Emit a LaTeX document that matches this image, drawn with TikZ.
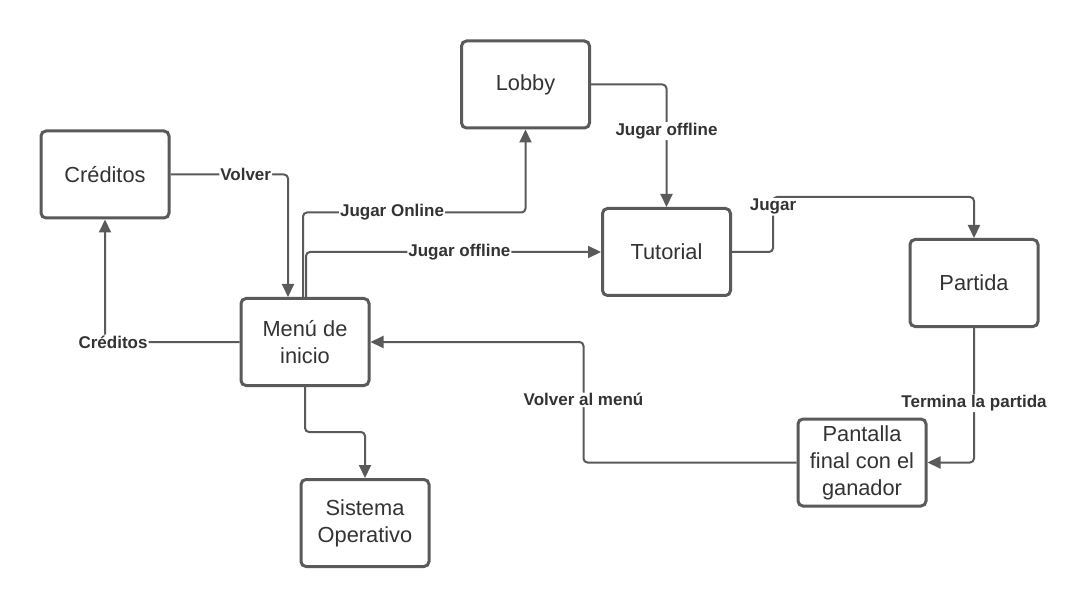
\documentclass[tikz,border=0pt]{standalone}
\usepackage{fontspec}
\setmainfont{Liberation Sans}
\usetikzlibrary{arrows.meta}
\definecolor{ln}{HTML}{5A5A5A}
\definecolor{tx}{HTML}{333333}
\begin{document}
\begin{tikzpicture}[x=1pt,y=-1pt,
  box/.style={draw=ln, line width=3pt, rounded corners=5pt, minimum width=128pt, minimum height=87pt, align=center, font=\fontsize{21.8}{27}\selectfont, text=tx, inner sep=0pt},
  conn/.style={draw=ln, line width=2pt, rounded corners=4pt, -{Triangle[length=13pt,width=12pt]}},
  lbl/.style={fill=white, font=\bfseries\fontsize{17}{19}\selectfont, text=tx, inner sep=1pt}]
\useasboundingbox[fill=white] (0,0) rectangle (1091,609);
\node[box] (cred) at (105,174.5) {Créditos};
\node[box] (lobby) at (525.5,84.5) {Lobby};
\node[box] (tut) at (666.5,252) {Tutorial};
\node[box] (part) at (974,283) {Partida};
\node[box] (menu) at (305,342) {Menú de\\inicio};
\node[box] (sis) at (365,523) {Sistema\\Operativo};
\node[box] (pant) at (862,462.5) {Pantalla\\final con el\\ganador};
% connectors
\draw[conn] (cred.east) -| node[lbl,pos=0.32]{Volver} ([xshift=-17pt]menu.north);
\draw[conn] ([xshift=-2pt]menu.north) |- node[lbl,pos=0.7]{Jugar Online} ([yshift=-83pt]lobby.south) -- (lobby.south);
\draw[conn] ([xshift=1pt]menu.north) |- node[lbl,pos=0.76]{Jugar offline} (tut.west);
\draw[conn] (lobby.east) -| node[lbl,pos=0.69]{Jugar offline} (tut.north);
\draw[conn] (tut.east) -- ++(41,0) -- ++(0,-55) node[lbl,pos=0.82]{Jugar} -| (part.north);
\draw[conn] (part.south) |- node[lbl,pos=0.28]{Termina la partida} (pant.east);
\draw[conn] (pant.west) -- ++(-213,0) |- node[lbl,pos=0.26]{Volver al menú} (menu.east);
\draw[conn] (menu.west) -| node[lbl,pos=0.47]{Créditos} (cred.south);
\draw[conn] (menu.south) -- ++(0,45) -| (sis.north);
\end{tikzpicture}
\end{document}
